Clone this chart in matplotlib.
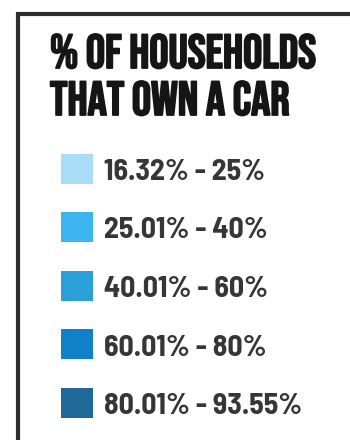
import matplotlib.pyplot as plt
import matplotlib.patheffects as pe
from matplotlib.patches import Rectangle

title_lines = ['% OF HOUSEHOLDS', 'THAT OWN A CAR']
labels = ['16.32% - 25%', '25.01% - 40%', '40.01% - 60%', '60.01% - 80%', '80.01% - 93.55%']
colors = ['#a8dcf8', '#3db5f0', '#2a9fd8', '#1080c8', '#1f6898']

fig = plt.figure(figsize=(3.5, 4.4), dpi=100)
ax = fig.add_axes([0, 0, 1, 1])
ax.set_xlim(0, 350)
ax.set_ylim(440, 0)
ax.axis('off')

# frame: only left and top edges show in the crop
ax.plot([18, 18, 360], [460, 14, 14], color='#2e2e2e', lw=3, solid_joinstyle='miter')

bold = [pe.withStroke(linewidth=1.3, foreground='#151515')]
ax.text(50, 68, title_lines[0], family=['Bebas Neue', 'DejaVu Sans'], fontsize=34.5,
        color='#151515', va='baseline', ha='left', path_effects=bold)
ax.text(50, 115, title_lines[1], family=['Bebas Neue', 'DejaVu Sans'], fontsize=34.5,
        color='#151515', va='baseline', ha='left', path_effects=bold)

for i, (lab, c) in enumerate(zip(labels, colors)):
    yc = 169 + i * 58.5
    ax.add_patch(Rectangle((61, yc - 15), 32, 30, facecolor=c, edgecolor='none'))
    ax.text(104, yc + 11, lab, family=['Barlow Semi Condensed', 'DejaVu Sans'],
            fontweight='bold', fontsize=21.5, color='#363636', va='baseline', ha='left')

fig.savefig('out.png', dpi=100, facecolor='white')
